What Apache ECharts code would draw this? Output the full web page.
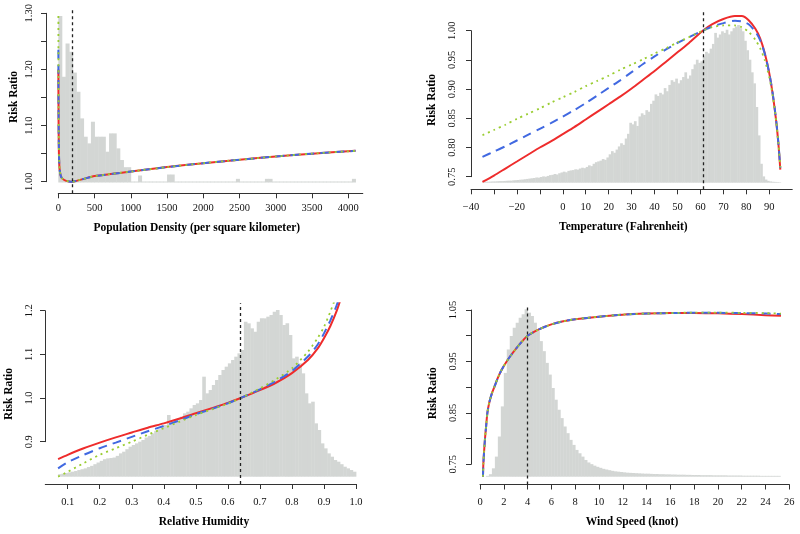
<!DOCTYPE html>
<html><head><meta charset="utf-8">
<script src="https://cdn.jsdelivr.net/npm/echarts@6/dist/echarts.min.js"></script>
<style>html,body{margin:0;padding:0;background:#fff}#c{width:800px;height:534px}</style>
</head><body><div id="c"></div><script>
// ================= DATA =================
// Panel 1: Population density
const popX = [1,2,4,7,12,20,35,60,100,150,190,250,350,500,750,1000,1500,2000,2500,3000,3500,4100];
const popRed   = [1.200,1.150,1.100,1.060,1.035,1.020,1.010,1.005,1.002,1.0005,1.000,1.0015,1.005,1.010,1.014,1.018,1.026,1.033,1.039,1.045,1.050,1.055];
const popBlue  = [1.235,1.170,1.110,1.065,1.037,1.020,1.010,1.005,1.002,1.0005,1.000,1.0015,1.005,1.010,1.014,1.018,1.026,1.033,1.039,1.045,1.050,1.055];
const popGreen = [1.295,1.190,1.120,1.070,1.040,1.021,1.010,1.005,1.002,1.0005,1.000,1.0015,1.005,1.010,1.014,1.018,1.026,1.033,1.039,1.045,1.050,1.055];
const popRef = 190;
const popHistStart = 0, popHistWidth = 50;
const popHist = [100,63.5,83.5,78.5,66,54.5,38.5,27.5,23.5,36.5,
  27.5,27.5,27.5,18.5,29.5,29.5,20.5,13.5,9.2,9.2,
  0.6,0.6,4.2,0.6,0.6,0.6,0.6,0.6,0.6,0.6,
  4.8,4.8,0.6,0.6,0.6,0.6,0.6,0.6,0.6,0.6,
  0.6,0.6,0.6,0.6,0.6,0.6,0.6,0.6,0.6,2.2,
  0.6,0.6,0.6,0.6,0.6,0.6,0.6,2.2,2.2,0.6,
  0.6,0.6,0.6,0.6,0.6,0.6,0.6,0.6,0.6,0.6,
  0.6,0.6,0.6,0.6,0.6,0.6,0.6,0.6,0.6,0.6,
  0.6,2.2];
const popXTicks = [0,500,1000,1500,2000,2500,3000,3500,4000];
const popXLabels = [0,500,1000,1500,2000,2500,3000,3500,4000];
const popYTicks = [1.00,1.05,1.10,1.15,1.20,1.25,1.30];
const popYLabels = [1.00,1.10,1.20,1.30];

// Panel 2: Temperature
const tempX = [-35,-30,-25,-20,-15,-10,-5,0,5,10,15,20,25,30,35,40,45,50,55,61,65,70,75,78,81,84,86,88,90,91.5,93,94,94.8];
const tempRed   = [0.741,0.752,0.764,0.776,0.788,0.800,0.811,0.823,0.835,0.848,0.861,0.874,0.887,0.901,0.916,0.931,0.947,0.963,0.979,1.000,1.011,1.020,1.025,1.025,1.018,1.003,0.987,0.962,0.927,0.891,0.845,0.805,0.762];
const tempBlue  = [0.784,0.793,0.802,0.812,0.822,0.832,0.842,0.853,0.864,0.876,0.889,0.902,0.915,0.929,0.943,0.956,0.968,0.979,0.989,1.000,1.007,1.013,1.017,1.016,1.011,0.998,0.984,0.961,0.927,0.892,0.846,0.806,0.765];
const tempGreen = [0.821,0.830,0.839,0.849,0.858,0.867,0.877,0.886,0.895,0.905,0.914,0.923,0.933,0.942,0.951,0.961,0.970,0.980,0.989,1.000,1.006,1.009,1.009,1.006,0.998,0.984,0.970,0.950,0.920,0.888,0.845,0.806,0.766];
const tempRef = 61.2;
const tempHistStart = -35, tempHistWidth = 1;
const tempHist = [0.5,0.6,0.6,0.7,0.8,0.8,0.9,1.0,1.0,1.1,
  1.2,1.3,1.3,1.5,1.6,1.7,1.9,2.0,2.2,2.4,
  2.6,2.8,3.0,3.3,3.2,3.6,4.0,3.8,4.3,4.8,
  5.0,5.5,5.2,6.0,6.5,7.0,6.6,7.5,7.8,8.0,
  8.5,8.3,9.0,9.5,9.2,10,11,10.5,12,13,
  13.5,14,15,14.5,16,18,20,19,21,23,
  25,24,28,31,38,37,39,36,42,44,
  43,46,45,50,52,56,55,57,56,60,
  58,62,65,64,66,63,65,67,70,66,
  68,72,75,78,76,77,80,83,82,85,
  88,95,92,94,96,95,97,94,96,98,
  99,100,98,96,90,84,78,70,63,48,
  30,12,4,2,1.2,0.8,0.6,0.5,0.4,0.3];
const tempXTicks = [-40,-30,-20,-10,0,10,20,30,40,50,60,70,80,90];
const tempXLabels = [-40,-20,0,10,20,30,40,50,60,70,80,90];
const tempYTicks = [0.75,0.80,0.85,0.90,0.95,1.00];
const tempYLabels = [0.75,0.80,0.85,0.90,0.95,1.00];

// Panel 3: Relative humidity
const humX = [0.07,0.1,0.15,0.2,0.25,0.3,0.35,0.4,0.45,0.5,0.55,0.6,0.64,0.7,0.75,0.8,0.85,0.88,0.9,0.92,0.94,0.96];
const humRed   = [0.860,0.870,0.885,0.898,0.910,0.921,0.932,0.942,0.953,0.965,0.977,0.989,1.000,1.018,1.035,1.057,1.087,1.113,1.137,1.165,1.200,1.245];
const humBlue  = [0.839,0.853,0.870,0.885,0.898,0.911,0.924,0.936,0.949,0.963,0.975,0.988,1.000,1.020,1.039,1.062,1.095,1.122,1.148,1.178,1.213,1.260];
const humGreen = [0.820,0.831,0.851,0.870,0.885,0.900,0.916,0.931,0.946,0.961,0.974,0.987,1.000,1.022,1.043,1.068,1.106,1.137,1.163,1.198,1.238,1.290];
const humRef = 0.64;
const humHistStart = 0.07, humHistWidth = 0.01;
const humHist = [1.5,1.8,2.2,
  2.6,3,3.4,4,4.5,5,5.8,6.5,7.5,8.5,
  9.5,10.5,11,11.2,11.5,12.5,14,15,16.5,18,
  19,20,21,22,23.5,24.5,26,27.5,28.5,30,
  31,37,33,34,35,36,38,39,41,43,
  44,46,60,50,52,55,58,61,64,66,
  68,70,72,74,76,93,92,89,87,93,
  95,95,96,97,99,100,97,91,92,85,
  71,72,68,62,50,44,45,32,28,20,
  17,14,12,10,9,7.5,6,5,4,3];
const humXTicks = [0.1,0.2,0.3,0.4,0.5,0.6,0.7,0.8,0.9,1.0];
const humXLabels = [0.1,0.2,0.3,0.4,0.5,0.6,0.7,0.8,0.9,1.0];
const humYTicks = [0.9,1.0,1.1,1.2];
const humYLabels = [0.9,1.0,1.1,1.2];

// Panel 4: Wind speed
const windX = [0.25,0.28,0.35,0.42,0.5,0.62,0.8,1.0,1.2,1.5,1.8,2.24,2.6,3.0,3.5,4.0,5,6,7,8,10,12,14,16,18,20,22,24,25.3];
const windRed   = [0.726,0.750,0.777,0.800,0.820,0.850,0.872,0.888,0.900,0.918,0.933,0.950,0.962,0.974,0.988,1.000,1.013,1.022,1.028,1.032,1.037,1.041,1.043,1.044,1.044,1.0435,1.042,1.040,1.039];
const windBlue  = [0.726,0.750,0.777,0.800,0.820,0.850,0.872,0.888,0.900,0.918,0.933,0.950,0.962,0.974,0.988,1.000,1.013,1.022,1.028,1.032,1.037,1.041,1.043,1.044,1.0445,1.0445,1.044,1.043,1.042];
const windGreen = [0.726,0.750,0.777,0.800,0.820,0.850,0.872,0.888,0.900,0.918,0.933,0.950,0.962,0.974,0.988,1.000,1.013,1.022,1.028,1.032,1.037,1.041,1.043,1.044,1.045,1.045,1.0445,1.044,1.043];
const windRef = 4.0;
const windHistStart = 0.5, windHistWidth = 0.25;
const windHist = [0.5,1.5,5,12,24,42,62,76,84,89,
  92,95,97,100,98,96,92,87,81,75,
  68,61,53,46,40,35,30,26,22,19,
  16,14,12,10,8.5,7.5,6.6,5.9,5.3,4.7,
  4.3,3.9,3.5,3.2,3.0,2.8,2.6,2.4,2.3,2.2,
  2.1,2.0,1.9,1.8,1.8,1.7,1.6,1.6,1.5,1.5,
  1.4,1.4,1.3,1.3,1.2,1.2,1.2,1.1,1.1,1.0,
  1.0,1.0,0.9,0.9,0.9,0.9,0.8,0.8,0.8,0.8,
  0.8,0.7,0.7,0.7,0.7,0.7,0.6,0.6,0.6,0.6,
  0.6,0.6,0.5,0.5,0.5,0.5,0.5,0.5,0.5];
const windXTicks = [0,2,4,6,8,10,12,14,16,18,20,22,24,26];
const windXLabels = [0,2,4,6,8,10,12,14,16,18,20,22,24,26];
const windYTicks = [0.75,0.80,0.85,0.90,0.95,1.00,1.05];
const windYLabels = [0.75,0.85,0.95,1.05];

const xTitles = ['Population Density (per square kilometer)','Temperature (Fahrenheit)','Relative Humidity','Wind Speed (knot)'];
const yTitle = 'Risk Ratio';

// ================= LAYOUT / STYLE =================
const FONT = '"Liberation Serif", "DejaVu Serif", serif';
const HIST = '#D3D6D4';
const AXC = '#333';
const layouts = [
  {xRef:[0,58.3,4000,348.3], yRef:[1,181.7,1.3,13.3], region:[46,8,367,193.3], axisX:[0,4200], axisY:[1,1.3],
   xLineY:193.3, yLineX:46, histTop:16, histBase:182.5, xDec:0, yDec:2, xMargin:9, yMargin:11, xTitle:[196.8,228.3], yTitle:[14,97]},
  {xRef:[-40,471,90,769.3], yRef:[0.75,176.7,1.0,30.7], region:[471,10,792,189.3], axisX:[-40,100], axisY:[0.75,1.0],
   xLineY:189.3, yLineX:471, histTop:25, histBase:182.7, xDec:0, yDec:2, xMargin:12, yMargin:13, xTitle:[623.3,226.7], yTitle:[432.3,100]},
  {xRef:[0.1,67.7,1.0,356], yRef:[0.9,441.7,1.2,310.7], region:[45,303.3,360,484], axisX:[0.03,1.0], axisY:[0.9,1.2],
   xLineY:484, yLineX:45, histTop:310, histBase:476.7, xDec:1, yDec:1, xMargin:13, yMargin:10, xTitle:[204,521.7], yTitle:[9,394]},
  {xRef:[0,480,26,789.3], yRef:[0.75,464.3,1.05,310], region:[471,305,792,484.5], axisX:[0,26], axisY:[0.75,1.05],
   xLineY:484.5, yLineX:471, histTop:309.3, histBase:476.7, xDec:0, yDec:2, xMargin:12.5, yMargin:12, xTitle:[632,521.7], yTitle:[433.3,393.3]}
];

const panels = [
  {xs:popX, red:popRed, blue:popBlue, green:popGreen, ref:popRef, hs:popHistStart, hw:popHistWidth, hist:popHist,
   xT:popXTicks, xL:popXLabels, yT:popYTicks, yL:popYLabels},
  {xs:tempX, red:tempRed, blue:tempBlue, green:tempGreen, ref:tempRef, hs:tempHistStart, hw:tempHistWidth, hist:tempHist,
   xT:tempXTicks, xL:tempXLabels, yT:tempYTicks, yL:tempYLabels},
  {xs:humX, red:humRed, blue:humBlue, green:humGreen, ref:humRef, hs:humHistStart, hw:humHistWidth, hist:humHist,
   xT:humXTicks, xL:humXLabels, yT:humYTicks, yL:humYLabels},
  {xs:windX, red:windRed, blue:windBlue, green:windGreen, ref:windRef, hs:windHistStart, hw:windHistWidth, hist:windHist,
   xT:windXTicks, xL:windXLabels, yT:windYTicks, yL:windYLabels}
];

function lin(r){ const [v0,p0,v1,p1]=r; const k=(p1-p0)/(v1-v0);
  return {toPx:v=>p0+(v-v0)*k, toVal:p=>v0+(p-p0)/k}; }
function fmt(v,d){ return Number(v).toFixed(d).replace('-','\u2212'); }
function curve(xs,ys){ return xs.map((x,i)=>[x,ys[i]]); }
function histData(s,w,c){ return c.map((h,i)=>[s+i*w, s+(i+1)*w, h]); }

const grids=[], xAxes=[], yAxes=[], series=[], graphics=[];
panels.forEach((P,p)=>{
  const L=layouts[p], X=lin(L.xRef), Y=lin(L.yRef);
  const [rl,rt,rr,rb]=L.region;
  const xmin=X.toVal(rl), xmax=X.toVal(rr), ymin=Y.toVal(rb), ymax=Y.toVal(rt);
  const gi=3*p;
  grids.push({left:rl, top:rt, width:rr-rl, height:rb-rt, outerBoundsMode:'none'});
  xAxes.push({type:'value', gridIndex:gi, min:xmin, max:xmax, show:false});
  yAxes.push({type:'value', gridIndex:gi, min:ymin, max:ymax, show:false});
  grids.push({left:rl, top:L.histTop, width:rr-rl, height:L.histBase-L.histTop, outerBoundsMode:'none'});
  xAxes.push({type:'value', gridIndex:gi+1, min:xmin, max:xmax, show:false});
  yAxes.push({type:'value', gridIndex:gi+1, min:0, max:100, show:false});
  const al=X.toPx(L.axisX[0]), ar=X.toPx(L.axisX[1]), at=Y.toPx(L.axisY[1]), ab=Y.toPx(L.axisY[0]);
  grids.push({left:al, top:at, width:ar-al, height:ab-at, outerBoundsMode:'none'});
  const lab={color:'#111', fontFamily:FONT, fontSize:10.5};
  xAxes.push({type:'value', gridIndex:gi+2, min:L.axisX[0], max:L.axisX[1], position:'bottom', offset:L.xLineY-ab,
    axisLine:{show:true, onZero:false, lineStyle:{color:AXC, width:1}},
    axisTick:{show:true, inside:false, length:5, customValues:P.xT, lineStyle:{color:AXC, width:1}},
    axisLabel:Object.assign({customValues:P.xL, margin:L.xMargin, formatter:v=>fmt(v,L.xDec)}, lab),
    splitLine:{show:false}});
  yAxes.push({type:'value', gridIndex:gi+2, min:L.axisY[0], max:L.axisY[1], position:'left', offset:al-L.yLineX,
    axisLine:{show:true, onZero:false, lineStyle:{color:AXC, width:1}},
    axisTick:{show:true, inside:false, length:5, customValues:P.yT, lineStyle:{color:AXC, width:1}},
    axisLabel:Object.assign({customValues:P.yL, rotate:90, margin:L.yMargin, formatter:v=>fmt(v,L.yDec)}, lab),
    splitLine:{show:false}});
  series.push({type:'custom', xAxisIndex:gi+1, yAxisIndex:gi+1, z:1, silent:true, encode:{x:[0,1], y:2},
    data:histData(P.hs,P.hw,P.hist),
    renderItem:(params,api)=>{ const a=api.coord([api.value(0),api.value(2)]); const b=api.coord([api.value(1),0]);
      return {type:'rect', shape:{x:a[0], y:a[1], width:b[0]-a[0]+0.4, height:b[1]-a[1]}, style:{fill:HIST}}; }});
  const styles=[
    {key:'red', z:2, ls:{color:'#EE2C2C', width:2, type:'solid'}},
    {key:'blue', z:3, ls:{color:'#4169E1', width:2, type:[9,6]}},
    {key:'green', z:4, ls:{color:'#9ACD32', width:1.8, type:[2,4]}}];
  styles.forEach((s,i)=>{
    const ser={type:'line', xAxisIndex:gi, yAxisIndex:gi, z:s.z, silent:true, showSymbol:false, symbol:'none',
      smooth:0.25, clip:true, lineStyle:s.ls, data:curve(P.xs,P[s.key])};
    if(i===2){ ser.markLine={silent:true, symbol:['none','none'], label:{show:false},
      lineStyle:{color:'#222', width:1.3, type:[3,3]}, data:[{xAxis:P.ref}]}; }
    series.push(ser);
  });
  graphics.push({type:'text', x:L.xTitle[0], y:L.xTitle[1], style:{text:xTitles[p], fontFamily:FONT, fontWeight:'bold', fontSize:11.5, fill:'#000', align:'center', verticalAlign:'middle'}});
  graphics.push({type:'text', x:L.yTitle[0], y:L.yTitle[1], rotation:Math.PI/2, style:{text:yTitle, fontFamily:FONT, fontWeight:'bold', fontSize:11.5, fill:'#000', align:'center', verticalAlign:'middle'}});
});

const chart=echarts.init(document.getElementById('c'), null, {renderer:'canvas'});
chart.setOption({backgroundColor:'#fff', animation:false, grid:grids, xAxis:xAxes, yAxis:yAxes, series:series, graphic:graphics});
</script></body></html>
